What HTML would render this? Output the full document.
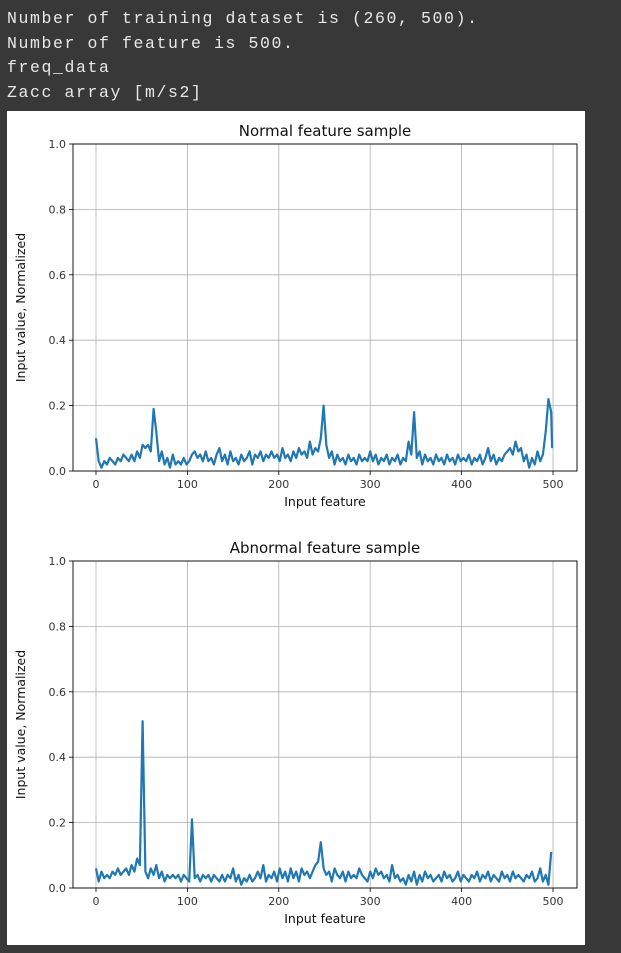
<!DOCTYPE html>
<html><head><meta charset="utf-8"><style>
html,body{margin:0;padding:0;background:#383838;width:621px;height:953px;overflow:hidden}
.term{position:absolute;left:7px;top:7px;font-family:"Liberation Mono","DejaVu Sans Mono",monospace;font-size:16.5px;line-height:24.5px;letter-spacing:1.6px;color:#e8e8e8;white-space:pre}
svg{position:absolute;left:0;top:0}
</style></head><body>
<div class="term">Number of training dataset is (260, 500).
Number of feature is 500.
freq_data
Zacc array [m/s2]</div>
<svg id="fig" width="621" height="953">
<rect x="7" y="111" width="578" height="834" fill="#fff"/>
</svg>
<script>
const xTicks=[0,100,200,300,400,500];
const yTicks=[0.0,0.2,0.4,0.6,0.8,1.0];
const featureStep=3;
const normalValues=[0.10,0.03,0.01,0.03,0.02,0.04,0.03,0.02,0.04,0.03,0.05,0.04,0.03,0.05,0.03,0.06,0.04,0.08,0.07,0.08,0.06,0.19,0.12,0.03,0.06,0.02,0.04,0.01,0.05,0.02,0.03,0.02,0.04,0.02,0.03,0.05,0.06,0.04,0.05,0.03,0.06,0.03,0.04,0.02,0.05,0.07,0.03,0.05,0.02,0.06,0.03,0.04,0.02,0.05,0.03,0.04,0.06,0.02,0.05,0.04,0.06,0.03,0.05,0.04,0.06,0.04,0.05,0.03,0.07,0.04,0.05,0.03,0.06,0.04,0.07,0.05,0.06,0.04,0.09,0.05,0.07,0.06,0.10,0.20,0.08,0.04,0.06,0.02,0.05,0.03,0.04,0.02,0.05,0.03,0.04,0.02,0.05,0.03,0.04,0.03,0.06,0.03,0.05,0.02,0.04,0.03,0.05,0.02,0.04,0.03,0.05,0.02,0.04,0.03,0.09,0.05,0.18,0.04,0.06,0.02,0.05,0.03,0.04,0.02,0.05,0.03,0.04,0.02,0.05,0.03,0.04,0.02,0.05,0.03,0.04,0.03,0.05,0.02,0.04,0.03,0.05,0.02,0.04,0.07,0.03,0.05,0.02,0.04,0.03,0.05,0.06,0.07,0.05,0.09,0.06,0.07,0.03,0.05,0.01,0.04,0.02,0.06,0.03,0.05,0.12,0.22,0.18,0.07];
const abnormalValues=[0.06,0.02,0.05,0.03,0.04,0.03,0.05,0.04,0.06,0.04,0.05,0.06,0.04,0.07,0.05,0.09,0.07,0.51,0.05,0.03,0.06,0.04,0.07,0.03,0.05,0.02,0.04,0.03,0.04,0.03,0.04,0.02,0.04,0.03,0.02,0.21,0.03,0.04,0.02,0.04,0.03,0.04,0.02,0.04,0.03,0.02,0.04,0.02,0.04,0.03,0.06,0.02,0.04,0.01,0.03,0.02,0.04,0.02,0.03,0.05,0.03,0.07,0.02,0.04,0.03,0.05,0.02,0.06,0.03,0.05,0.02,0.06,0.03,0.05,0.02,0.06,0.04,0.05,0.03,0.05,0.07,0.08,0.14,0.06,0.04,0.05,0.02,0.06,0.04,0.03,0.05,0.02,0.05,0.03,0.04,0.03,0.06,0.04,0.03,0.02,0.05,0.03,0.06,0.04,0.05,0.03,0.04,0.02,0.07,0.03,0.04,0.02,0.03,0.01,0.04,0.02,0.05,0.01,0.04,0.02,0.05,0.03,0.04,0.02,0.03,0.04,0.02,0.05,0.03,0.04,0.02,0.03,0.05,0.02,0.04,0.03,0.02,0.04,0.03,0.05,0.02,0.04,0.03,0.05,0.02,0.04,0.03,0.02,0.05,0.03,0.04,0.02,0.05,0.03,0.04,0.03,0.02,0.04,0.03,0.05,0.02,0.03,0.06,0.02,0.04,0.01,0.11];

const NS='http://www.w3.org/2000/svg';
const svg=document.getElementById('fig');
function mk(tag,attrs,parent){const e=document.createElementNS(NS,tag);for(const k in attrs)e.setAttribute(k,attrs[k]);(parent||svg).appendChild(e);return e;}
const FONT='"DejaVu Sans","Liberation Sans",sans-serif';

function drawChart(prefix,title,values,top,bottom){
  const left=73,right=577;
  const xs=v=>96+v*(553-96)/500;
  const ys=v=>bottom-v*(bottom-top);
  const g=mk('g',{});
  
  
  xTicks.forEach(t=>{
    const l=mk('line',{x1:xs(t),x2:xs(t),y1:top,y2:bottom,stroke:'#b0b0b0','stroke-width':0.8},g);
    
    
    mk('line',{x1:xs(t),x2:xs(t),y1:bottom,y2:bottom+4,stroke:'#000','stroke-width':0.8},g);
    const tx=mk('text',{x:xs(t),y:bottom+17,'font-size':11,'text-anchor':'middle','font-family':FONT,fill:'#333'},g);
    tx.textContent=String(t);
    
    
  });
  yTicks.forEach(t=>{
    const l=mk('line',{x1:left,x2:right,y1:ys(t),y2:ys(t),stroke:'#b0b0b0','stroke-width':0.8},g);
    
    
    mk('line',{x1:left-4,x2:left,y1:ys(t),y2:ys(t),stroke:'#000','stroke-width':0.8},g);
    const tx=mk('text',{x:left-7,y:ys(t)+4,'font-size':11,'text-anchor':'end','font-family':FONT,fill:'#333'},g);
    tx.textContent=t.toFixed(1);
    
    
  });
  const pts=values.map((v,i)=>xs(Math.min(i*featureStep,499)).toFixed(1)+','+ys(v).toFixed(1)).join(' ');
  const line=mk('polyline',{points:pts,fill:'none',stroke:'#1f77b4','stroke-width':2.2,'stroke-linejoin':'round'},g);
  
  
  const frame=mk('rect',{x:left,y:top,width:right-left,height:bottom-top,fill:'none',stroke:'#000','stroke-width':0.9},g);
  
  
  const tt=mk('text',{x:(left+right)/2,y:top-8,'font-size':15,'text-anchor':'middle','font-family':FONT,fill:'#111'},g);
  tt.textContent=title;
  
  
  const xl=mk('text',{x:(left+right)/2,y:bottom+35,'font-size':12.5,'text-anchor':'middle','font-family':FONT,fill:'#111'},g);
  xl.textContent='Input feature';
  
  
  const yl=mk('text',{x:0,y:0,'font-size':12.5,'text-anchor':'middle','font-family':FONT,fill:'#111',transform:'translate(25,'+((top+bottom)/2)+') rotate(-90)'},g);
  yl.textContent='Input value, Normalized';
  
  
}
drawChart('normal','Normal feature sample',normalValues,144,471);
drawChart('abnormal','Abnormal feature sample',abnormalValues,561,888);
</script>
</body></html>
